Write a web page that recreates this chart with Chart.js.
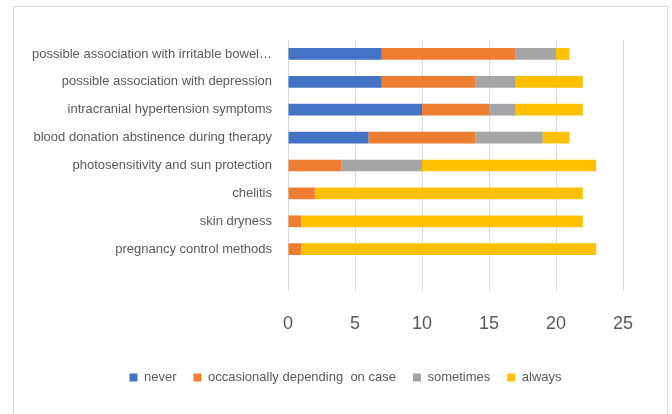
<!DOCTYPE html>
<html lang="en">
<head>
    <meta charset="UTF-8">
    <title>Survey answers</title>
    <script src="https://cdn.jsdelivr.net/npm/chart.js"></script>
    <style>
        body {
            margin: 0;
            padding: 0;
            background-color: #fff;
        }

        #wrap {
            width: 672px;
            height: 414px;
        }
    </style>
</head>
<body>
    <div id="wrap">
        <canvas id="surveyChart" width="672" height="414"></canvas>
    </div>

    <script>
        // categories (last one is an empty row, as in the original sheet)
        var topics = [
            'possible association with irritable bowel…',
            'possible association with depression',
            'intracranial hypertension symptoms',
            'blood donation abstinence during therapy',
            'photosensitivity and sun protection',
            'chelitis',
            'skin dryness',
            'pregnancy control methods',
            ''
        ];

        var never = [7, 7, 10, 6, 0, 0, 0, 0, null];
        var occasionally = [10, 7, 5, 8, 4, 2, 1, 1, null];
        var sometimes = [3, 3, 2, 5, 6, 0, 0, 0, null];
        var always = [1, 5, 5, 2, 13, 20, 21, 22, null];

        var xTicks = [0, 5, 10, 15, 20, 25];

        var textGrey = '#595959';
        var lineGrey = '#d9d9d9';

        // white background and the outer chart frame
        var framePlugin = {
            id: 'frame',
            beforeDraw: function (chart) {
                var c = chart.ctx;
                c.save();
                c.fillStyle = '#fff';
                c.fillRect(0, 0, chart.width, chart.height);
                c.strokeStyle = lineGrey;
                c.lineWidth = 1;
                c.strokeRect(13.5, 6.5, 654, 430);
                c.restore();
            }
        };

        // legend sits a bit right of the canvas centre in the original
        var legendShift = {
            id: 'legendShift',
            afterLayout: function (chart) {
                if (chart.legend) {
                    chart.legend.left += 34;
                    chart.legend.right += 34;
                }
            }
        };

        var ctx = document.getElementById('surveyChart').getContext('2d');
        var surveyChart = new Chart(ctx, {
            type: 'bar',
            data: {
                labels: topics,
                datasets: [
                    { label: 'never', data: never, backgroundColor: '#4472C4' },
                    { label: 'occasionally depending  on case', data: occasionally, backgroundColor: '#ED7D31' },
                    { label: 'sometimes', data: sometimes, backgroundColor: '#A5A5A5' },
                    { label: 'always', data: always, backgroundColor: '#FFC000' }
                ]
            },
            options: {
                indexAxis: 'y',
                responsive: false,
                animation: false,
                barPercentage: 0.42,
                categoryPercentage: 1,
                layout: {
                    padding: { top: 40, right: 49, left: 0, bottom: 20 }
                },
                scales: {
                    x: {
                        stacked: true,
                        min: 0,
                        max: 25,
                        afterBuildTicks: function (axis) {
                            axis.ticks = xTicks.map(function (v) { return { value: v }; });
                        },
                        afterFit: function (axis) {
                            axis.height = 63;
                        },
                        grid: {
                            color: lineGrey,
                            lineWidth: 1,
                            drawTicks: false
                        },
                        border: { display: false },
                        ticks: {
                            color: textGrey,
                            padding: 22,
                            font: { family: 'Liberation Sans', size: 18 }
                        }
                    },
                    y: {
                        stacked: true,
                        afterFit: function (axis) {
                            axis.width = 288;
                        },
                        grid: { display: false },
                        border: { display: false },
                        ticks: {
                            color: textGrey,
                            padding: 8,
                            autoSkip: false,
                            font: { family: 'Liberation Sans', size: 13 }
                        }
                    }
                },
                plugins: {
                    legend: {
                        position: 'bottom',
                        labels: {
                            boxWidth: 8,
                            boxHeight: 8,
                            padding: 17,
                            color: textGrey,
                            font: { family: 'Liberation Sans', size: 13 }
                        }
                    },
                    tooltip: { enabled: false }
                }
            },
            plugins: [framePlugin, legendShift]
        });
    </script>
</body>
</html>
